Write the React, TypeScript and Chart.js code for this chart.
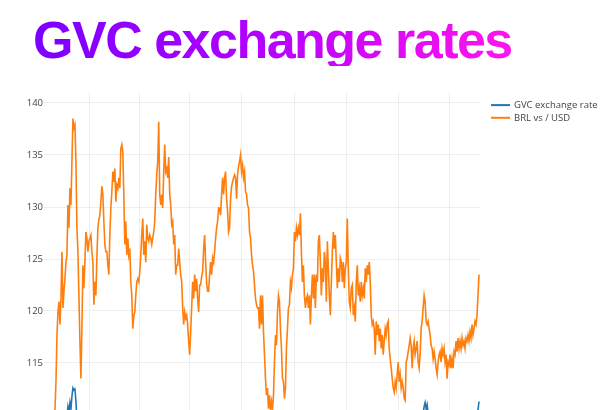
import React, { useEffect, useRef } from "react";
import { Chart, registerables } from "chart.js";

Chart.register(...registerables);

const TITLE = "GVC exchange rates";
const SERIES_NAMES = ["GVC exchange rate", "BRL vs / USD"];
const SERIES_COLORS = ["#1f77b4", "#ff7f0e"];
const Y_TICKS = [110, 115, 120, 125, 130, 135, 140];
// week index at which each year starts (vertical grid lines)
const YEAR_BOUNDARY_WEEKS = [45, 94.5, 145.3, 197, 250, 301.7, 354.7, 405.7];

// BRL vs / USD, one value per week (week 0 .. 435)
const BRL_VS_USD = [
  108.6, 108.9, 109.2, 108.8, 109.4, 109.1, 109.6, 109.3, 109.8, 109.5,
  110.5, 113.2, 117.7, 119.9, 120.9, 118.7, 121.2, 125.7, 120.3, 121.9,
  123.1, 124.7, 125.4, 130.2, 128.0, 131.8, 130.2, 134.4, 138.5, 137.6,
  137.9, 134.4, 128.0, 125.7, 121.5, 117.1, 113.5, 118.3, 124.4, 122.2,
  124.7, 127.6, 127.0, 125.7, 126.7, 127.0, 127.3, 125.7, 124.7, 120.6,
  122.8, 121.5, 125.1, 128.0, 128.8, 129.2, 130.5, 132.0, 131.2, 128.6,
  126.4, 125.7, 125.7, 124.4, 123.5, 127.3, 129.9, 131.5, 133.4, 132.4,
  133.7, 130.5, 132.1, 131.8, 132.8, 131.8, 135.6, 136.0, 135.3, 131.2,
  126.4, 128.6, 125.4, 127.0, 125.4, 126.0, 122.8, 121.5, 118.3, 119.5,
  119.9, 121.5, 122.8, 123.1, 122.8, 123.8, 125.4, 127.3, 128.9, 125.4,
  126.7, 124.7, 128.3, 127.0, 126.7, 127.3, 127.0, 126.4, 127.0, 127.6,
  128.6, 131.2, 133.1, 134.4, 138.2, 131.2, 130.2, 131.2, 129.9, 133.4,
  136.0, 133.4, 133.7, 132.8, 134.8, 131.2, 130.2, 128.3, 128.6, 126.4,
  127.3, 123.5, 124.4, 124.4, 126.0, 124.7, 123.5, 122.8, 120.3, 118.7,
  119.9, 119.3, 119.6, 118.7, 117.1, 115.8, 118.0, 120.3, 122.8, 121.2,
  123.5, 121.9, 123.1, 121.2, 119.9, 122.5, 122.5, 123.3, 123.8, 126.0,
  127.3, 124.7, 122.7, 121.9, 121.9, 123.5, 124.7, 123.5, 125.1, 124.7,
  125.7, 127.0, 128.0, 128.6, 129.9, 129.9, 129.2, 131.2, 132.8, 131.2,
  132.8, 133.4, 130.8, 129.6, 127.6, 128.0, 130.8, 132.0, 132.4, 132.8,
  133.1, 132.8, 130.8, 133.1, 133.9, 134.4, 135.0, 133.4, 134.0, 132.8,
  133.4, 131.5, 131.2, 130.2, 129.9, 127.6, 127.0, 125.4, 124.4, 123.8,
  122.5, 121.2, 120.6, 120.3, 120.3, 118.3, 121.5, 118.7, 121.5, 118.0,
  115.8, 113.5, 111.9, 112.6, 110.6, 111.9, 110.5, 111.3, 110.5, 111.9,
  115.1, 117.7, 116.7, 119.9, 121.5, 120.9, 118.3, 116.4, 113.5, 113.2,
  111.6, 112.6, 116.4, 118.3, 120.3, 120.6, 122.8, 122.2, 123.5, 124.1,
  127.6, 126.7, 128.0, 127.3, 128.0, 127.3, 129.4, 125.7, 122.8, 124.4,
  121.5, 120.3, 121.2, 121.5, 120.3, 121.5, 118.7, 121.5, 123.5, 121.2,
  123.5, 120.3, 123.5, 122.8, 126.7, 127.3, 124.7, 121.5, 124.1, 122.8,
  125.7, 124.7, 120.9, 126.7, 124.1, 121.5, 119.6, 122.8, 125.7, 127.6,
  126.0, 127.3, 124.7, 122.2, 124.1, 122.8, 125.1, 124.7, 122.8, 124.7,
  122.2, 124.1, 124.7, 128.9, 124.1, 120.9, 120.3, 122.2, 122.5, 119.6,
  120.3, 119.0, 122.8, 124.4, 121.5, 122.2, 120.9, 122.8, 121.5, 122.2,
  121.2, 124.1, 122.8, 124.4, 123.5, 124.7, 122.8, 119.6, 118.7, 119.0,
  118.3, 115.8, 119.0, 117.7, 118.7, 117.1, 118.3, 116.4, 117.7, 115.8,
  117.1, 118.3, 117.7, 118.7, 119.0, 116.4, 115.4, 114.5, 113.5, 112.6,
  112.2, 113.2, 112.6, 113.9, 115.1, 113.2, 113.9, 112.6, 113.2, 112.6,
  111.6, 111.4, 115.1, 115.4, 116.1, 116.7, 117.4, 116.7, 114.5, 116.4,
  117.1, 115.8, 116.4, 117.1, 115.1, 114.5, 115.8, 118.3, 119.0, 120.3,
  121.5, 120.9, 119.0, 118.7, 119.0, 118.3, 117.7, 116.7, 116.4, 115.4,
  116.1, 115.4, 114.5, 113.9, 115.1, 115.8, 116.1, 115.1, 116.4, 115.8,
  116.4, 115.1, 115.8, 113.5, 115.1, 114.8, 115.8, 114.5, 115.4, 114.5,
  116.1, 115.8, 117.1, 116.1, 117.4, 116.4, 117.1, 116.4, 117.4, 116.7,
  117.1, 116.4, 117.4, 117.1, 117.7, 117.1, 118.0, 117.4, 118.7, 117.7,
  118.3, 119.0, 118.7, 119.6, 121.5, 123.5,
];

// GVC exchange rate (mostly below the visible range)
const GVC_WEEKS = [
  0, 8, 15, 20, 22, 23, 24, 25, 26, 27, 28, 29, 30, 31, 32, 34, 45, 60, 90,
  120, 160, 200, 240, 270, 280, 282, 284, 300, 330, 360, 378, 380, 381, 382,
  383, 385, 410, 432, 434, 435,
];
const GVC_RATE = [
  106.0, 106.8, 107.2, 108.5, 109.8, 110.8, 110.3, 111.2, 110.6, 111.8, 112.6,
  112.4, 112.5, 111.3, 109.5, 108.0, 107.4, 106.5, 105.8, 105.0, 104.6, 104.5,
  105.2, 106.0, 109.9, 110.2, 109.6, 107.0, 106.2, 105.5, 109.5, 110.8, 111.2,
  110.6, 111.0, 109.2, 106.5, 108.5, 110.5, 111.3,
];

const sideLegend = {
  id: "sideLegend",
  afterDraw(chart: any) {
    const { ctx, chartArea } = chart;
    ctx.save();
    ctx.font = '9.5px "Open Sans"';
    ctx.textBaseline = "middle";
    ctx.textAlign = "left";
    chart.data.datasets.forEach((ds: any, i: number) => {
      const y = chartArea.top + 12.5 + i * 12.7;
      ctx.strokeStyle = ds.borderColor;
      ctx.lineWidth = 2;
      ctx.beginPath();
      ctx.moveTo(chartArea.right + 11, y);
      ctx.lineTo(chartArea.right + 30, y);
      ctx.stroke();
      ctx.fillStyle = "#444";
      ctx.fillText(ds.label, chartArea.right + 34, y);
    });
    ctx.restore();
  },
};

export default function App() {
  const ref = useRef<HTMLCanvasElement | null>(null);

  useEffect(() => {
    if (!ref.current) return;
    const chart = new Chart(ref.current, {
      type: "line",
      data: {
        datasets: [
          {
            label: SERIES_NAMES[0],
            data: GVC_WEEKS.map((w, i) => ({ x: w, y: GVC_RATE[i] })),
            borderColor: SERIES_COLORS[0],
            backgroundColor: SERIES_COLORS[0],
            borderWidth: 1.6,
            pointRadius: 0,
            tension: 0,
            order: 1,
          },
          {
            label: SERIES_NAMES[1],
            data: BRL_VS_USD.map((v, i) => ({ x: i, y: v })),
            borderColor: SERIES_COLORS[1],
            backgroundColor: SERIES_COLORS[1],
            borderWidth: 1.6,
            pointRadius: 0,
            tension: 0,
            order: 0,
          },
        ],
      },
      options: {
        responsive: false,
        animation: false,
        devicePixelRatio: 1,
        layout: { padding: { top: 92.6, bottom: 24.2, left: 0, right: 135 } },
        plugins: {
          legend: { display: false },
          tooltip: { enabled: false },
          title: { display: false },
        },
        scales: {
          x: {
            type: "linear",
            min: -1,
            max: 436,
            border: { display: false },
            grid: { color: "#eeeeee", drawTicks: false, lineWidth: 1 },
            ticks: { display: false },
            afterBuildTicks: (scale: any) => {
              scale.ticks = YEAR_BOUNDARY_WEEKS.map((v) => ({ value: v }));
            },
          },
          y: {
            min: 108,
            max: 141,
            border: { display: false },
            grid: { color: "#eeeeee", drawTicks: false, lineWidth: 1 },
            ticks: {
              padding: 1,
              color: "#444",
              font: { family: '"Open Sans"', size: 9.5 },
            },
            afterBuildTicks: (scale: any) => {
              scale.ticks = Y_TICKS.map((v) => ({ value: v }));
            },
            afterFit: (scale: any) => {
              scale.width = 44;
            },
          },
        },
      },
      plugins: [sideLegend],
    });
    return () => chart.destroy();
  }, []);

  return (
    <div
      style={{
        position: "fixed",
        left: 0,
        top: 0,
        width: 615,
        height: 410,
        overflow: "hidden",
        background: "#fff",
      }}
    >
      <div
        style={{
          position: "absolute",
          left: 33,
          top: 14,
          fontFamily: '"Liberation Sans", Arial, sans-serif',
          fontWeight: 700,
          fontSize: 52,
          lineHeight: "52px",
          letterSpacing: "-1.5px",
          whiteSpace: "nowrap",
          background: "linear-gradient(90deg, #7a00ff 0%, #b000ff 45%, #ff14ee 100%)",
          WebkitBackgroundClip: "text",
          backgroundClip: "text",
          color: "transparent",
          WebkitTextFillColor: "transparent",
        }}
      >
        {TITLE}
      </div>
      <canvas
        ref={ref}
        width={615}
        height={460}
        style={{ position: "absolute", left: 0, top: 0, width: 615, height: 460 }}
      />
    </div>
  );
}
